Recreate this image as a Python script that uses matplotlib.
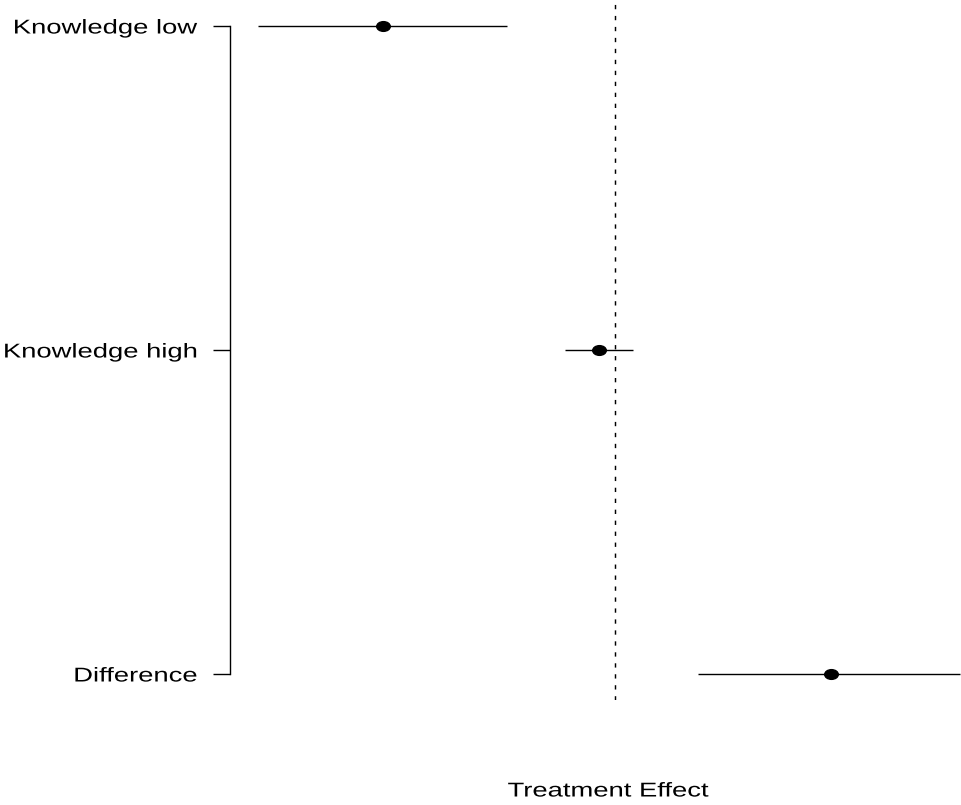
import matplotlib
matplotlib.use("Agg")
import matplotlib.pyplot as plt
from matplotlib.markers import MarkerStyle
from matplotlib.patheffects import AbstractPathEffect
from matplotlib.transforms import Affine2D

# Estimates with 95% intervals for each subgroup and their difference
labels = ["Knowledge low", "Knowledge high", "Difference"]
estimates = [-0.579, -0.039, 0.540]
ci_low = [-0.891, -0.124, 0.209]
ci_high = [-0.269, 0.046, 0.864]
ypos = [3, 2, 1]


class HStretch(AbstractPathEffect):
    """Widen glyph paths horizontally about a fixed anchor."""

    def __init__(self, sx, anchor="right"):
        super().__init__()
        self.sx = sx
        self.anchor = anchor

    def draw_path(self, renderer, gc, tpath, affine, rgbFace=None):
        ext = tpath.get_extents()
        if self.anchor == "right":
            a = ext.x1
        elif self.anchor == "center":
            a = 0.5 * (ext.x0 + ext.x1)
        else:
            a = ext.x0
        pre = Affine2D().translate(-a, 0).scale(self.sx, 1).translate(a, 0)
        renderer.draw_path(gc, tpath, pre + affine, rgbFace)


plt.rcParams["font.family"] = ["Liberation Sans", "DejaVu Sans"]
plt.rcParams["lines.scale_dashes"] = False

W, H, DPI = 961, 805, 100
fig = plt.figure(figsize=(W / DPI, H / DPI), dpi=DPI)
ax = fig.add_axes([230 / W, (H - 700) / H, (W - 230) / W, 700 / H])

# vertical reference line at zero effect
ax.axvline(0, color="black", lw=1.05, linestyle=(0, (3.1, 4.8)), zorder=1)

ax.hlines(ypos, ci_low, ci_high, color="black", lw=1.0, zorder=2)
dot = MarkerStyle("o", transform=Affine2D().scale(1.4, 1.0))
ax.plot(estimates, ypos, linestyle="none", marker=dot, markersize=7.0,
        color="black", zorder=3)

ax.set_ylim(1 - 26 / 324, 3 + 26 / 324)
ax.set_xlim((230 - 614.5) / 400, (961 - 614.5) / 400)

for side in ("top", "right", "bottom"):
    ax.spines[side].set_visible(False)
ax.spines["left"].set_bounds(1, 3)
ax.spines["left"].set_linewidth(1.0)
ax.set_xticks([])
ax.set_yticks(ypos)
ax.set_yticklabels(labels)
ax.tick_params(axis="y", length=12.2, width=1.0, pad=11.5, labelsize=14.4)
for t in ax.get_yticklabels():
    t.set_path_effects([HStretch(1.37, "right")])

xl = ax.set_xlabel("Treatment Effect", fontsize=14.4)
xl.set_path_effects([HStretch(1.37, "center")])
ax.xaxis.set_label_coords((608 - 230) / (W - 230), -91 / 700)
xl.set_verticalalignment("center")

fig.savefig("out.png", dpi=DPI)
